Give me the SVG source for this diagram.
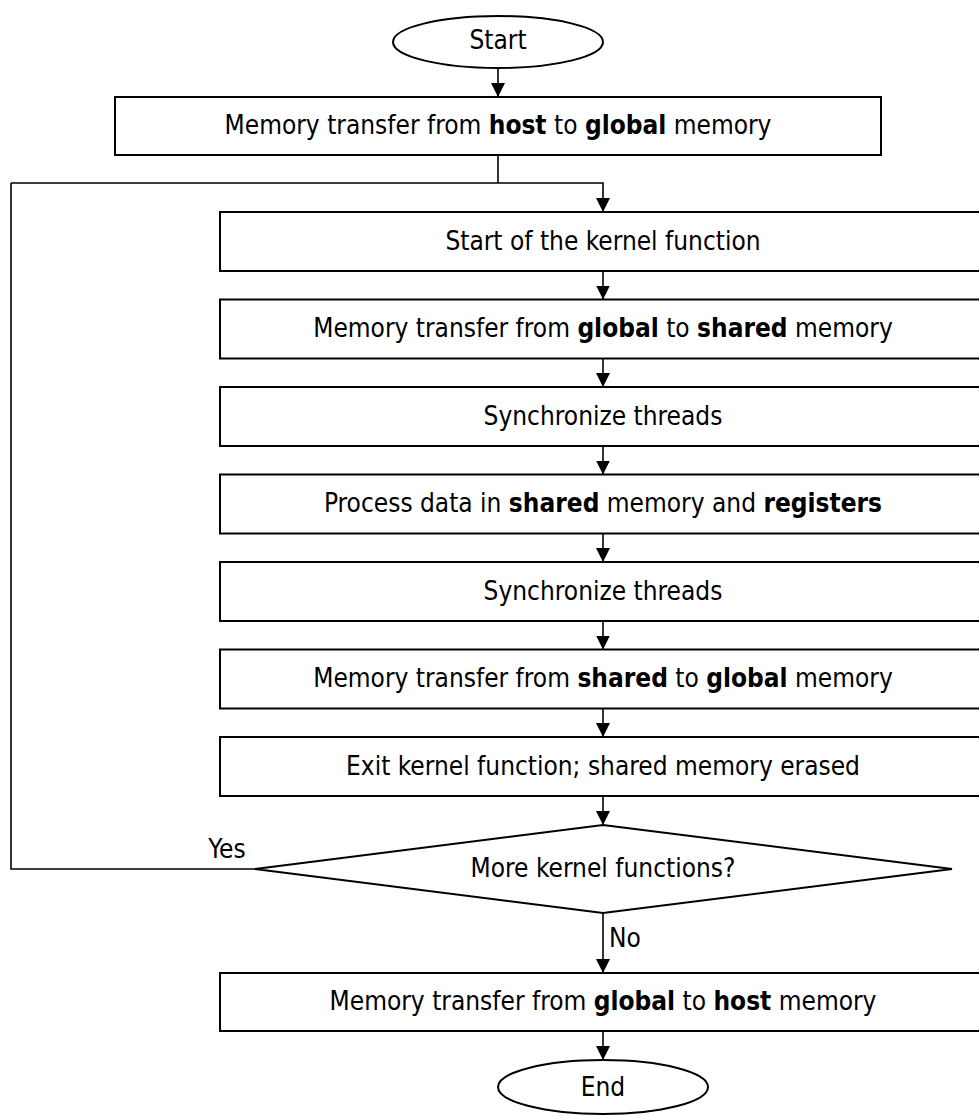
<svg xmlns="http://www.w3.org/2000/svg" width="979" height="1116" viewBox="0 0 979 1116">
  <defs>
    <marker id="arrow" viewBox="0 0 14 14" refX="14" refY="7" markerWidth="14" markerHeight="14" markerUnits="userSpaceOnUse" orient="auto">
      <path d="M0,0 L14,7 L0,14 Z" fill="#000"/>
    </marker>
    <style>
      .shape { fill: #fff; stroke: #000; stroke-width: 2; }
      .line { fill: none; stroke: #000; stroke-width: 1.6; }
      .arr { fill: none; stroke: #000; stroke-width: 1.6; marker-end: url(#arrow); }
      text { font-family: "DejaVu Sans Condensed", "DejaVu Sans", sans-serif; font-size: 26px; fill: #000; }
      .c { text-anchor: middle; dominant-baseline: central; }
      .b { font-weight: bold; }
    </style>
  </defs>

  <!-- connectors -->
  <g id="connectors">
    <line class="arr" x1="498" y1="68" x2="498" y2="97"/>
    <polyline class="line" points="498,155 498,183"/>
    <polyline class="arr" points="11,183 603,183 603,212"/>
    <line class="arr" x1="603" y1="271" x2="603" y2="299.5"/>
    <line class="arr" x1="603" y1="358.5" x2="603" y2="387"/>
    <line class="arr" x1="603" y1="446" x2="603" y2="474.5"/>
    <line class="arr" x1="603" y1="533.5" x2="603" y2="562"/>
    <line class="arr" x1="603" y1="621" x2="603" y2="649.5"/>
    <line class="arr" x1="603" y1="708.5" x2="603" y2="737"/>
    <line class="arr" x1="603" y1="796" x2="603" y2="825"/>
    <polyline class="line" points="255,869 11,869 11,183"/>
    <line class="arr" x1="603" y1="913" x2="603" y2="973"/>
    <line class="arr" x1="603" y1="1031" x2="603" y2="1060"/>
    <text class="c" x="227" y="849">Yes</text>
    <text class="c" x="625" y="938">No</text>
  </g>

  <g id="start">
    <ellipse class="shape" cx="498" cy="42" rx="105" ry="26"/>
    <text class="c" x="498" y="40">Start</text>
  </g>

  <g id="host-to-global">
    <rect class="shape" x="115" y="97" width="766" height="58"/>
    <text class="c" x="498" y="125">Memory transfer from <tspan class="b">host</tspan> to <tspan class="b">global</tspan> memory</text>
  </g>

  <g id="kernel-start">
    <rect class="shape" x="220" y="212" width="766" height="59"/>
    <text class="c" x="603" y="240.5">Start of the kernel function</text>
  </g>

  <g id="global-to-shared">
    <rect class="shape" x="220" y="299.5" width="766" height="59"/>
    <text class="c" x="603" y="328">Memory transfer from <tspan class="b">global</tspan> to <tspan class="b">shared</tspan> memory</text>
  </g>

  <g id="sync-1">
    <rect class="shape" x="220" y="387" width="766" height="59"/>
    <text class="c" x="603" y="415.5">Synchronize threads</text>
  </g>

  <g id="process">
    <rect class="shape" x="220" y="474.5" width="766" height="59"/>
    <text class="c" x="603" y="503">Process data in <tspan class="b">shared</tspan> memory and <tspan class="b">registers</tspan></text>
  </g>

  <g id="sync-2">
    <rect class="shape" x="220" y="562" width="766" height="59"/>
    <text class="c" x="603" y="590.5">Synchronize threads</text>
  </g>

  <g id="shared-to-global">
    <rect class="shape" x="220" y="649.5" width="766" height="59"/>
    <text class="c" x="603" y="678">Memory transfer from <tspan class="b">shared</tspan> to <tspan class="b">global</tspan> memory</text>
  </g>

  <g id="kernel-exit">
    <rect class="shape" x="220" y="737" width="766" height="59"/>
    <text class="c" x="603" y="765.5">Exit kernel function; shared memory erased</text>
  </g>

  <g id="more-kernels">
    <polygon class="shape" points="603,825 952,869 603,913 255,869"/>
    <text class="c" x="603" y="868">More kernel functions?</text>
  </g>

  <g id="global-to-host">
    <rect class="shape" x="220" y="973" width="766" height="58"/>
    <text class="c" x="603" y="1001">Memory transfer from <tspan class="b">global</tspan> to <tspan class="b">host</tspan> memory</text>
  </g>

  <g id="end">
    <ellipse class="shape" cx="603" cy="1087" rx="105" ry="27"/>
    <text class="c" x="603" y="1087">End</text>
  </g>
</svg>
